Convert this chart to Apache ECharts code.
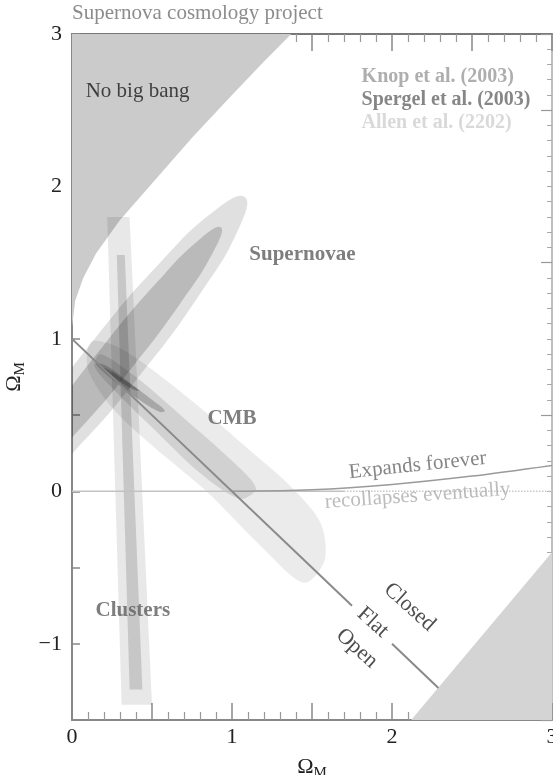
<!DOCTYPE html>
<html>
<head>
<meta charset="utf-8">
<script src="https://cdn.jsdelivr.net/npm/echarts/dist/echarts.min.js"></script>
<style>
  html, body { margin: 0; padding: 0; background: #fff; }
  #chart { width: 553px; height: 775px; }
</style>
</head>
<body>
<div id="chart"></div>
<script>
// tick labels
const xTickLabels = ['0', '1', '2', '3'];
const yTickLabels = ['−1', '0', '1', '2', '3'];

// shaded regions (Omega_M, Omega_Lambda)
const noBigBang = [[0, 3], [0, 1.08], [0.02, 1.25], [0.07, 1.4], [0.15, 1.56], [0.3, 1.78], [0.5, 2.02],
  [0.75, 2.32], [1.0, 2.6], [1.2, 2.82], [1.37, 3]];
const cornerRegion = [[2.12, -1.5], [3, -0.4], [3, -1.5]];

// supernovae contours
const snOuter = [[1.08, 1.93], [1.045, 1.731], [0.808, 1.307], [0.432, 0.771], [0.018, 0.267], [-0.323, -0.07],
  [-0.5, -0.15], [-0.465, 0.049], [-0.228, 0.473], [0.148, 1.009], [0.562, 1.513], [0.903, 1.85]];
const snInner = [[0.93, 1.732], [0.888, 1.582], [0.686, 1.247], [0.378, 0.816], [0.046, 0.405], [-0.22, 0.124],
  [-0.35, 0.048], [-0.308, 0.198], [-0.106, 0.533], [0.202, 0.964], [0.534, 1.375], [0.8, 1.656]];

// clusters band
const clOuter = [[0.22, 1.8], [0.36, 1.8], [0.5, -1.4], [0.31, -1.4]];
const clInner = [[0.28, 1.55], [0.33, 1.55], [0.44, -1.3], [0.36, -1.3]];

// CMB band
const cmbOuter = [[0.12, 0.98], [0.28, 0.95], [0.5, 0.8], [0.8, 0.55], [1.1, 0.28], [1.35, 0.05], [1.55, -0.2],
  [1.58, -0.45], [1.45, -0.6], [1.2, -0.38], [0.84, 0.0], [0.5, 0.3], [0.25, 0.55], [0.1, 0.8]];
const cmbInner = [[0.18, 0.9], [0.4, 0.75], [0.7, 0.48], [1.0, 0.2], [1.15, 0.02], [1.05, -0.05], [0.8, 0.12],
  [0.5, 0.42], [0.25, 0.68], [0.14, 0.82]];

// combined fit
const fitOuter = [[0.15, 0.84], [0.22, 0.82], [0.35, 0.72], [0.5, 0.6], [0.58, 0.53], [0.55, 0.52], [0.42, 0.6],
  [0.28, 0.71], [0.18, 0.8]];
const fitInner = [[0.2, 0.81], [0.3, 0.75], [0.42, 0.66], [0.36, 0.68], [0.25, 0.76]];

// lines
const flatA = [[0, 1], [1.75, -0.75]];
const flatB = [[2.0, -1.0], [2.29, -1.29]];
const zeroLine = [[0, 0], [1.7, 0]];
const zeroDots = [[1.7, 0], [3, 0]];
const expandCurve = [[1.0, 0], [1.5, 0.01], [2.0, 0.045], [2.5, 0.1], [3.0, 0.17]];

const serif = '"Liberation Serif", "DejaVu Serif", serif';

const notes = [
  { text: 'No big bang', at: [0.41, 2.62], color: '#1a1a1a', size: 21, bold: false, align: 'center', rotate: 0 },
  { text: 'Knop et al. (2003)', at: [1.81, 2.72], color: '#9a9a9a', size: 20, bold: true, align: 'left', rotate: 0 },
  { text: 'Spergel et al. (2003)', at: [1.81, 2.57], color: '#686868', size: 20, bold: true, align: 'left', rotate: 0 },
  { text: 'Allen et al. (2202)', at: [1.81, 2.42], color: '#d0d0d0', size: 20, bold: true, align: 'left', rotate: 0 },
  { text: 'Supernovae', at: [1.44, 1.55], color: '#5e5e5e', size: 21, bold: true, align: 'center', rotate: 0 },
  { text: 'CMB', at: [1.0, 0.48], color: '#5e5e5e', size: 21, bold: true, align: 'center', rotate: 0 },
  { text: 'Clusters', at: [0.38, -0.78], color: '#5e5e5e', size: 21, bold: true, align: 'center', rotate: 0 },
  { text: 'Expands forever', at: [2.16, 0.17], color: '#666', size: 21, bold: false, align: 'center', rotate: 6 },
  { text: 'recollapses eventually', at: [2.16, -0.03], color: '#ababab', size: 21, bold: false, align: 'center', rotate: 4 },
  { text: 'Closed', at: [2.11, -0.76], color: '#222', size: 22, bold: false, align: 'center', rotate: -42 },
  { text: 'Flat', at: [1.88, -0.86], color: '#222', size: 22, bold: false, align: 'center', rotate: -42 },
  { text: 'Open', at: [1.78, -1.03], color: '#222', size: 22, bold: false, align: 'center', rotate: -42 }
];

function area(name, pts, fill, smooth) {
  return {
    name: name,
    type: 'custom',
    clip: true,
    silent: true,
    data: [0],
    renderItem: function (params, api) {
      return {
        type: 'polygon',
        shape: { points: pts.map(p => api.coord(p)), smooth: smooth || 0 },
        style: { fill: fill, stroke: null }
      };
    }
  };
}

function line(name, pts, color, width, type) {
  return {
    name: name,
    type: 'line',
    data: pts,
    symbol: 'none',
    silent: true,
    smooth: pts.length > 2 ? 0.3 : false,
    lineStyle: { color: color, width: width, type: type || 'solid' },
    z: 3
  };
}

const omega = {
  o: { fontFamily: serif, fontSize: 22, color: '#222' },
  s: { fontFamily: serif, fontSize: 15, color: '#222', padding: [12, 0, 0, 0] }
};

const axisCommon = {
  type: 'value',
  splitLine: { show: false },
  axisTick: { show: true, inside: true, length: 17, lineStyle: { color: '#888', width: 1.5 } },
  minorTick: { show: true, splitNumber: 5, length: 8, lineStyle: { color: '#999', width: 1.2 } },
  axisLine: { show: true, onZero: false, lineStyle: { color: '#888', width: 2 } }
};

const chart = echarts.init(document.getElementById('chart'));
chart.setOption({
  animation: false,
  backgroundColor: '#fff',
  title: {
    text: 'Supernova cosmology project',
    left: 72, top: 3, padding: 0,
    textStyle: { fontFamily: serif, fontSize: 21, fontWeight: 'normal', color: '#8c8c8c' }
  },
  grid: { left: 72, right: 1, top: 34, bottom: 55, containLabel: false, outerBoundsMode: 'none' },
  xAxis: [
    Object.assign({}, axisCommon, {
      position: 'bottom', min: 0, max: 3, interval: 0.5,
      axisLabel: {
        margin: 6, fontFamily: serif, fontSize: 22, color: '#222',
        formatter: v => (v % 1 === 0 ? xTickLabels[v] : '')
      },
      name: '{o|Ω}{s|M}', nameLocation: 'middle', nameGap: 34,
      nameTextStyle: { rich: omega }
    }),
    Object.assign({}, axisCommon, {
      position: 'top', min: 0, max: 3, interval: 0.5,
      axisLabel: { show: false },
      axisLine: { show: true, onZero: false, lineStyle: { color: '#777', width: 2 } }
    })
  ],
  yAxis: [
    Object.assign({}, axisCommon, {
      position: 'left', min: -1.5, max: 3, interval: 0.5,
      axisTick: { show: true, inside: true, length: 8, lineStyle: { color: '#888', width: 1.5 } },
      minorTick: { show: false },
      axisLabel: {
        margin: 10, fontFamily: serif, fontSize: 22, color: '#222',
        formatter: v => (v % 1 === 0 ? yTickLabels[v + 1] : '')
      },
      name: '{o|Ω}{s|M}', nameLocation: 'middle', nameGap: 40, nameRotate: 90,
      nameTextStyle: { rich: omega }
    }),
    Object.assign({}, axisCommon, {
      position: 'right', min: -1.5, max: 3, interval: 1,
      axisTick: { show: true, inside: true, length: 11, lineStyle: { color: '#999', width: 1.2 } },
      minorTick: { show: true, splitNumber: 10, length: 5, lineStyle: { color: '#aaa', width: 1 } },
      axisLabel: { show: false },
      axisLine: { show: true, onZero: false, lineStyle: { color: '#aaa', width: 1.5 } }
    })
  ],
  series: [
    area('No big bang', noBigBang, '#cbcbcb', 0),
    area('corner', cornerRegion, '#d4d4d4', 0),
    area('SN outer', snOuter, 'rgba(0,0,0,0.12)', 0.5),
    area('SN inner', snInner, 'rgba(0,0,0,0.17)', 0.5),
    area('Clusters outer', clOuter, 'rgba(0,0,0,0.09)', 0),
    area('Clusters inner', clInner, 'rgba(0,0,0,0.14)', 0),
    area('CMB outer', cmbOuter, 'rgba(0,0,0,0.08)', 0.3),
    area('CMB inner', cmbInner, 'rgba(0,0,0,0.11)', 0.3),
    area('Fit outer', fitOuter, 'rgba(0,0,0,0.2)', 0.4),
    area('Fit inner', fitInner, 'rgba(0,0,0,0.22)', 0.4),
    line('zero', zeroLine, '#c2c2c2', 1.5),
    line('zero dots', zeroDots, '#c8c8c8', 1.5, 'dotted'),
    line('expands', expandCurve, '#9a9a9a', 1.5),
    line('flat a', flatA, '#8a8a8a', 2),
    line('flat b', flatB, '#8a8a8a', 2),
    {
      name: 'notes',
      type: 'scatter',
      symbolSize: 0,
      silent: true,
      z: 5,
      data: notes.map(n => ({
        value: n.at,
        label: {
          show: true, position: 'inside', formatter: n.text, align: n.align, verticalAlign: 'middle',
          rotate: n.rotate, fontFamily: serif, fontSize: n.size, color: n.color,
          fontWeight: n.bold ? 'bold' : 'normal'
        }
      }))
    }
  ]
});
</script>
</body>
</html>
